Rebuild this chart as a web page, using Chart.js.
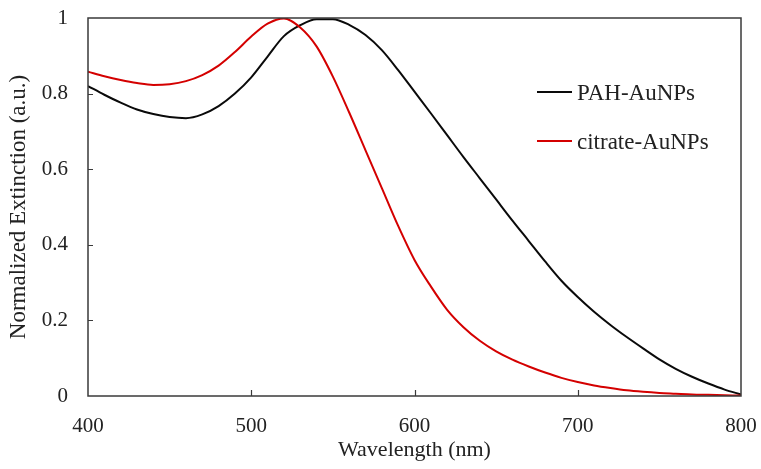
<!DOCTYPE html>
<html>
<head>
<meta charset="utf-8">
<script src="https://cdn.jsdelivr.net/npm/chart.js@4/dist/chart.umd.min.js"></script>
<style>
html,body{margin:0;padding:0;background:#fff;}
#wrap{width:761px;height:469px;}
</style>
</head>
<body>
<div id="wrap"><canvas id="c" width="761" height="469"></canvas></div>
<script>
const wavelengths = [400,410,420,430,440,450,460,470,480,490,500,510,520,530,540,550,560,570,580,590,600,610,620,630,640,650,660,670,680,690,700,710,720,730,740,750,760,770,780,790,800];
const pahValues = [0.82,0.797,0.776,0.758,0.746,0.738,0.735,0.745,0.767,0.80,0.843,0.898,0.952,0.981,0.997,0.997,0.982,0.955,0.915,0.862,0.805,0.748,0.690,0.632,0.576,0.52,0.464,0.41,0.356,0.305,0.262,0.223,0.188,0.156,0.126,0.097,0.072,0.051,0.033,0.017,0.004];
const citrateValues = [0.858,0.846,0.836,0.828,0.823,0.825,0.833,0.849,0.874,0.91,0.951,0.985,0.999,0.975,0.925,0.845,0.75,0.65,0.55,0.45,0.36,0.29,0.228,0.182,0.146,0.118,0.096,0.078,0.062,0.048,0.037,0.028,0.021,0.015,0.011,0.008,0.006,0.004,0.003,0.002,0.001];
const seriesLabels = ["PAH-AuNPs","citrate-AuNPs"];
const xTickValues = [400,500,600,700,800];
const yTickValues = [0,0.2,0.4,0.6,0.8,1];
const xTitle = "Wavelength (nm)";
const yTitle = "Normalized Extinction (a.u.)";

const FONT = "'Liberation Serif', 'Times New Roman', serif";
const TEXT = "#222";
const BOX = "#3a3a3a";

const toPts = (xs, ys) => xs.map((x, i) => ({x: x, y: ys[i]}));

const boxPlugin = {
  id: 'boxTicks',
  afterDatasetsDraw(chart) {
    const {ctx, chartArea: a, scales: {x, y}} = chart;
    ctx.save();
    ctx.strokeStyle = BOX;
    ctx.lineWidth = 1.5;
    ctx.strokeRect(a.left, a.top, a.right - a.left, a.bottom - a.top);
    ctx.lineWidth = 1.2;
    ctx.beginPath();
    xTickValues.forEach(v => {
      if (v === x.min || v === x.max) return;
      const px = Math.round(x.getPixelForValue(v)) + 0.5;
      ctx.moveTo(px, a.bottom); ctx.lineTo(px, a.bottom - 6);
    });
    yTickValues.forEach(v => {
      if (v === y.min || v === y.max) return;
      const py = Math.round(y.getPixelForValue(v)) + 0.5;
      ctx.moveTo(a.left, py); ctx.lineTo(a.left + 5, py);
    });
    ctx.stroke();
    ctx.restore();
  },
  afterDraw(chart) {
    const {ctx, chartArea: a} = chart;
    ctx.save();
    ctx.font = "23px " + FONT;
    ctx.textBaseline = 'middle';
    ctx.textAlign = 'left';
    chart.data.datasets.forEach((ds, i) => {
      const yy = a.top + 74 + i * 49;
      const x0 = a.left + 449;
      ctx.strokeStyle = ds.borderColor;
      ctx.lineWidth = 2.2;
      ctx.beginPath();
      ctx.moveTo(x0, yy); ctx.lineTo(x0 + 35, yy);
      ctx.stroke();
      ctx.fillStyle = TEXT;
      ctx.fillText(ds.label, x0 + 40, yy + 2);
    });
    ctx.restore();
  }
};

new Chart(document.getElementById('c'), {
  type: 'line',
  data: {
    datasets: [
      {label: seriesLabels[0], data: toPts(wavelengths, pahValues), borderColor: '#0a0a0a', borderWidth: 2, pointRadius: 0, cubicInterpolationMode: 'monotone', order: 1},
      {label: seriesLabels[1], data: toPts(wavelengths, citrateValues), borderColor: '#d40000', borderWidth: 2, pointRadius: 0, cubicInterpolationMode: 'monotone', order: 0}
    ]
  },
  options: {
    responsive: false,
    animation: false,
    devicePixelRatio: 1,
    layout: {padding: {left: 0, right: 20, top: 18, bottom: 0}},
    plugins: {legend: {display: false}, tooltip: {enabled: false}},
    scales: {
      x: {
        type: 'linear', min: 400, max: 800,
        afterBuildTicks(s) { s.ticks = xTickValues.map(v => ({value: v})); },
        afterFit(s) { s.height = 73; s.paddingLeft = 0; s.paddingRight = 0; },
        grid: {display: false, drawTicks: false},
        border: {display: false},
        ticks: {color: TEXT, font: {family: FONT, size: 21}, padding: 18, maxRotation: 0, autoSkip: false, callback: v => String(v)},
        title: {display: true, text: xTitle, color: TEXT, font: {family: FONT, size: 22}, padding: {top: 0, bottom: 6}}
      },
      y: {
        type: 'linear', min: 0, max: 1,
        afterBuildTicks(s) { s.ticks = yTickValues.map(v => ({value: v})); },
        afterFit(s) { s.width = 88; s.paddingTop = 0; s.paddingBottom = 0; },
        grid: {display: false, drawTicks: false},
        border: {display: false},
        ticks: {color: TEXT, font: {family: FONT, size: 21}, padding: 20, callback: v => String(v)},
        title: {display: true, text: yTitle, color: TEXT, font: {family: FONT, size: 23}, padding: {top: 5, bottom: 0}}
      }
    }
  },
  plugins: [boxPlugin]
});
</script>
</body>
</html>
